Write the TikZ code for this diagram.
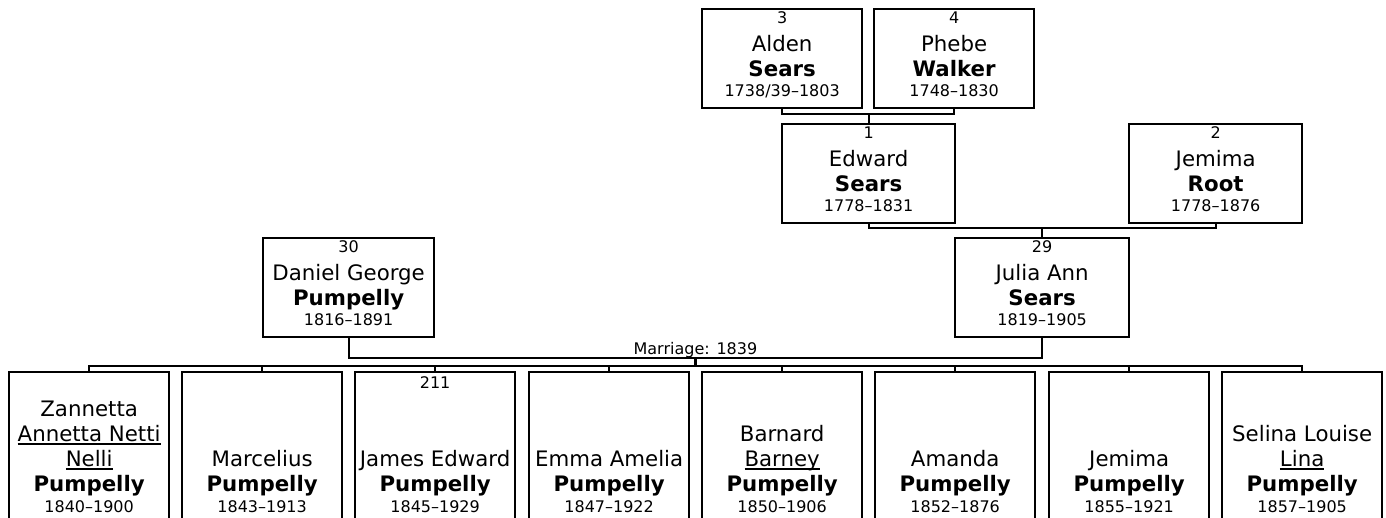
\documentclass[tikz,border=0pt]{standalone}
\usepackage{fontspec}
\setmainfont{DejaVu Sans}
\usetikzlibrary{calc}
\tikzset{
  pbox/.style={draw, line width=2.3pt, rectangle, inner sep=0pt, anchor=north west},
  conn/.style={line width=2.3pt, line join=miter},
  tsm/.style={font=\fontsize{16}{19}\selectfont, anchor=base, inner sep=0pt},
  tbig/.style={font=\fontsize{21.3}{25}\selectfont, anchor=base, inner sep=0pt},
  tbold/.style={font=\fontsize{21.3}{25}\selectfont\bfseries, anchor=base, inner sep=0pt},
}
\newcommand\ulx[1]{\setbox0\hbox{#1}\rlap{\rule[-3.5pt]{\wd0}{1.6pt}}\box0}
\newcommand\upperp[5]{\path (#1.north) ++(0,16) node[tsm] (#1n) {#2} ++(0,28) node[tbig] (#1g) {#3} ++(0,25) node[tbold] (#1s) {#4} ++(0,20) node[tsm] (#1d) {#5};}
\newcommand\childp[2]{\path (#1.north) ++(0,120) node[tbold] (#1s) {Pumpelly} ++(0,21) node[tsm] (#1d) {#2};}
\newcommand\nameline[3]{\path (#1.north) ++(0,#2) node[tbig] (#1l#2) {#3};}
\begin{document}
\begin{tikzpicture}[x=1pt,y=-1pt]
\clip (0,0) rectangle (1386,518);
% ancestors
\node[pbox, minimum width=160pt, minimum height=99pt] (b3) at (701,8) {};
\node[pbox, minimum width=160pt, minimum height=99pt] (b4) at (873,8) {};
\node[pbox, minimum width=173pt, minimum height=99pt] (b1) at (781,123) {};
\node[pbox, minimum width=173pt, minimum height=99pt] (b2) at (1128,123) {};
\node[pbox, minimum width=174pt, minimum height=99pt] (b29) at (954,237) {};
\node[pbox, minimum width=171pt, minimum height=99pt] (b30) at (262,237) {};
\upperp{b3}{3}{Alden}{Sears}{1738/39–1803}
\upperp{b4}{4}{Phebe}{Walker}{1748–1830}
\upperp{b1}{1}{Edward}{Sears}{1778–1831}
\upperp{b2}{2}{Jemima}{Root}{1778–1876}
\upperp{b29}{29}{Julia Ann}{Sears}{1819–1905}
\upperp{b30}{30}{Daniel George}{Pumpelly}{1816–1891}
% children
\foreach \nm/\lx in {cA/8, cB/181, cC/354, cD/528, cE/701, cF/874, cG/1048, cH/1221}
  \node[pbox, minimum width=160pt, minimum height=170pt] (\nm) at (\lx,371) {};
\nameline{cA}{45}{Zannetta}
\nameline{cA}{70}{\ulx{Annetta Netti}}
\nameline{cA}{95}{\ulx{Nelli}}
\childp{cA}{1840–1900}
\nameline{cB}{95}{Marcelius}
\childp{cB}{1843–1913}
\path (cC.north) ++(0,17) node[tsm] (cCn) {211};
\nameline{cC}{95}{James Edward}
\childp{cC}{1845–1929}
\nameline{cD}{95}{Emma Amelia}
\childp{cD}{1847–1922}
\nameline{cE}{70}{Barnard}
\nameline{cE}{95}{\ulx{Barney}}
\childp{cE}{1850–1906}
\nameline{cF}{95}{Amanda}
\childp{cF}{1852–1876}
\nameline{cG}{95}{Jemima}
\childp{cG}{1855–1921}
\nameline{cH}{70}{Selina Louise}
\nameline{cH}{95}{\ulx{Lina}}
\childp{cH}{1857–1905}
% connectors
\path (b1.north) ++(0,-9) coordinate (j34);
\draw[conn] (b3.south) |- (j34) -| (b4.south);
\draw[conn] (j34) -- (b1.north);
\path (b29.north) ++(0,-9) coordinate (j12);
\draw[conn] (b1.south) |- (j12) -| (b2.south);
\draw[conn] (j12) -- (b29.north);
\coordinate (jm) at ($(b30.south)!0.5!(b29.south)+(0,20)$);
\draw[conn] (b30.south) |- (jm) -| (b29.south);
\node[tsm] (mlab) at ($(jm)+(0,-4)$) {Marriage: 1839};
\path (jm) ++(0,8) coordinate (jb);
\draw[conn] (jm) -- (jb);
\draw[conn] (cA.north) |- (cH.north |- jb) -- (cH.north);
\foreach \nm in {cB,cC,cD,cE,cF,cG}
  \draw[conn] (\nm.north |- jb) -- (\nm.north);
\end{tikzpicture}
\end{document}
